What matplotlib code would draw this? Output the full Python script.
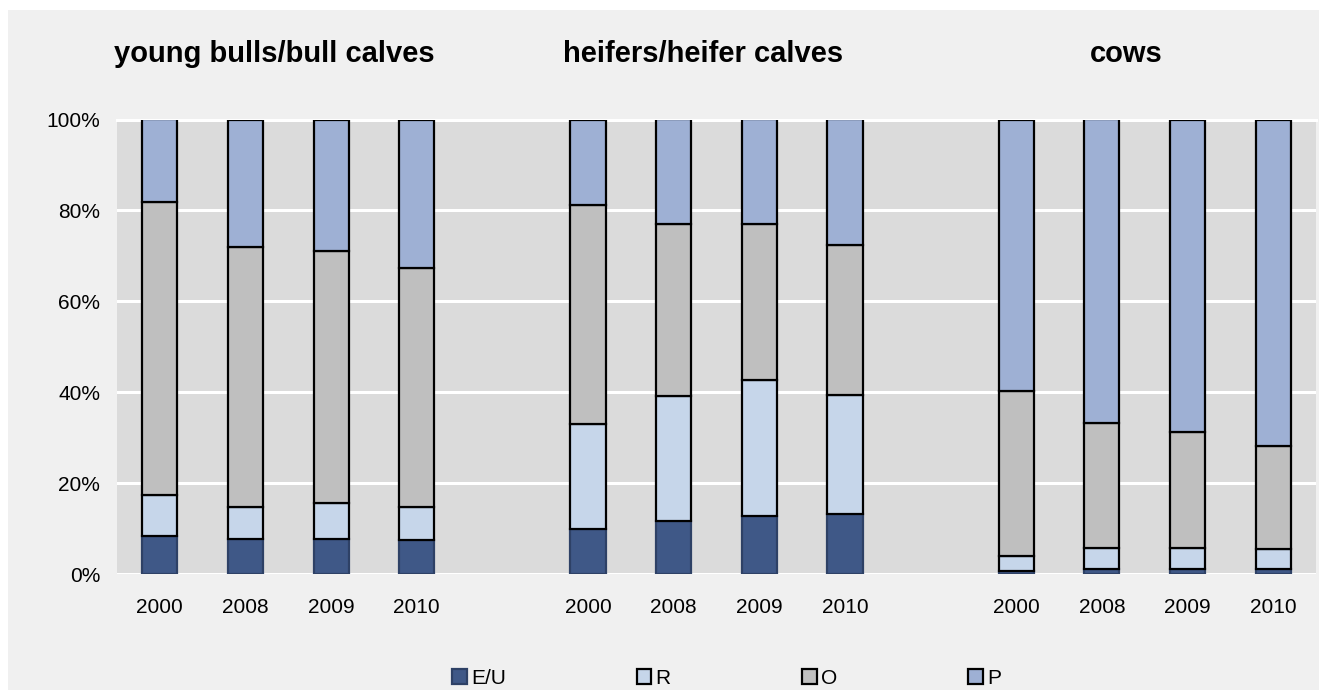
import matplotlib
matplotlib.use("Agg")
from matplotlib import pyplot as plt
from matplotlib.patches import Rectangle
from matplotlib.transforms import blended_transform_factory

plt.rcParams['font.family'] = ['Liberation Sans', 'DejaVu Sans']

groups = ['young bulls/bull calves', 'heifers/heifer calves', 'cows']
years = ['2000', '2008', '2009', '2010']
series = ['E/U', 'R', 'O', 'P']

# shares in %, 4 years per group
eu = [8.4, 7.8, 7.8, 7.5, 9.8, 11.6, 12.8, 13.1, 0.7, 1.2, 1.2, 1.2]
r = [9.0, 6.9, 7.8, 7.2, 23.2, 27.5, 29.9, 26.2, 3.3, 4.6, 4.6, 4.2]
o = [64.4, 57.2, 55.5, 52.6, 48.1, 37.8, 34.2, 33.0, 36.3, 27.4, 25.4, 22.7]
p = [18.2, 28.1, 28.9, 32.7, 18.9, 23.1, 23.1, 27.7, 59.7, 66.8, 68.8, 71.9]

colors = ['#3F5887', '#C6D6EA', '#BFBFBF', '#9EB0D4']
edges = ['#2E4166', 'black', 'black', 'black']

fig = plt.figure(figsize=(13.19, 6.9), dpi=100, facecolor='white')
fig.patches.append(Rectangle((8 / 1319, 0), 1, 1 - 10 / 690, transform=fig.transFigure,
                             facecolor='#F0F0F0', edgecolor='none', zorder=-10))
ax = fig.add_axes([117 / 1319, 1 - 574 / 690, 1199 / 1319, 454.5 / 690])
ax.set_facecolor('#DBDBDB')

x = [g * 5 + i for g in range(len(groups)) for i in range(len(years))]
bottom = [0] * len(x)
for vals, name, c, ec in zip([eu, r, o, p], series, colors, edges):
    ax.bar(x, vals, width=0.41, bottom=bottom, color=c, edgecolor=ec,
           linewidth=1.6, label=name, zorder=3)
    bottom = [b + v for b, v in zip(bottom, vals)]

ax.set_xlim(-0.5, 13.5)
ax.set_ylim(0, 100)
ax.set_yticks(range(0, 101, 20))
ax.set_yticklabels([f'{v}%' for v in range(0, 101, 20)])
ax.set_xticks(x)
ax.set_xticklabels(years * len(groups))
ax.tick_params(axis='y', length=0, pad=12, labelsize=15)
ax.tick_params(axis='x', length=0, pad=17, labelsize=15)
ax.grid(axis='y', color='white', linewidth=2.2, zorder=1)
ax.set_axisbelow(True)
for s in ax.spines.values():
    s.set_visible(False)
ax.axhline(100, color='white', linewidth=2.2, zorder=1, clip_on=False)

trans = blended_transform_factory(ax.transData, fig.transFigure)
for tx, name in zip([1.34, 6.34, 11.28], groups):
    ax.text(tx, 1 - 62 / 690, name, transform=trans, ha='center', va='baseline',
            fontsize=21, fontweight='bold')

leg = fig.legend(loc='center left', bbox_to_anchor=(452 / 1319, 1 - 678 / 690), ncol=4,
                 frameon=False, fontsize=15, handlelength=0.7, handleheight=0.7,
                 handletextpad=0.2, columnspacing=6.3, borderpad=0, borderaxespad=0)

fig.savefig('out.png', dpi=100, facecolor=fig.get_facecolor())
